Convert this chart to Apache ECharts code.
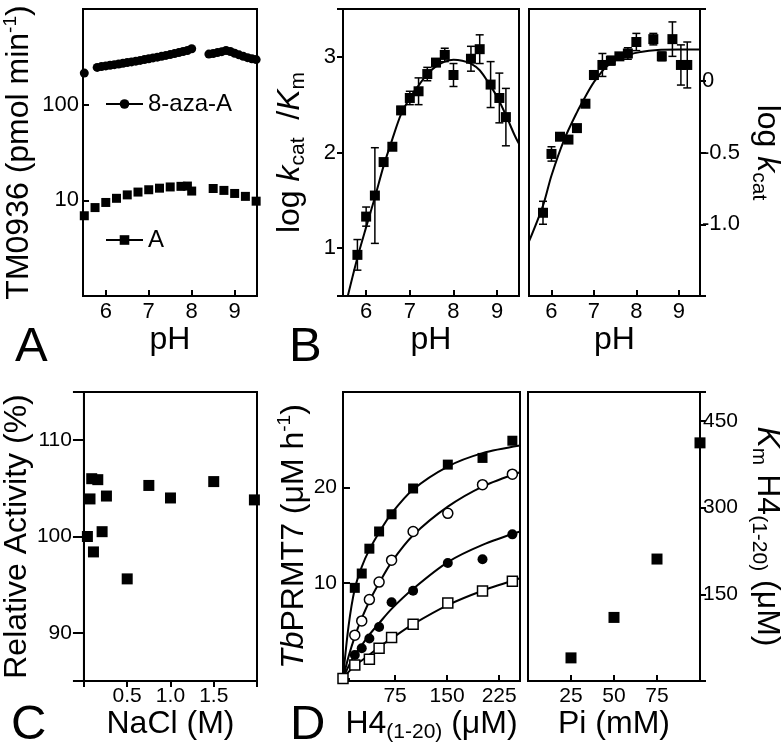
<!DOCTYPE html>
<html>
<head>
<meta charset="utf-8">
<script src="https://cdn.jsdelivr.net/npm/echarts@6/dist/echarts.min.js"></script>
<style>
  html, body { margin: 0; padding: 0; background: #fff; }
  #chart { width: 784px; height: 754px; }
</style>
</head>
<body>
<div id="chart"></div>
<script>
// ---- panel A: TM0936 activity vs pH (log scale) ----
const phAzaA = [5.5, 5.8, 5.9, 6.0, 6.1, 6.2, 6.3, 6.4, 6.5, 6.6, 6.7, 6.8, 6.9, 7.0, 7.1, 7.2, 7.3, 7.4, 7.5, 7.6, 7.7, 7.8, 7.9, 8.0,
                8.4, 8.5, 8.6, 8.7, 8.8, 8.9, 9.0, 9.1, 9.2, 9.3, 9.4, 9.5];
const rateAzaA = [214, 245, 250, 254, 258, 262, 266, 271, 276, 280, 285, 290, 296, 302, 308, 314, 320, 327, 334, 342, 350, 360, 368, 384,
                  338, 342, 350, 358, 368, 360, 345, 332, 320, 310, 302, 296];
const phA = [5.5, 5.75, 6.0, 6.25, 6.5, 6.75, 7.0, 7.25, 7.5, 7.75, 7.9, 8.0, 8.5, 8.75, 9.0, 9.25, 9.5];
const rateA = [6.9, 8.4, 9.5, 10.5, 11.4, 12.2, 12.9, 13.4, 13.8, 14.0, 14.1, 12.5, 13.3, 12.7, 11.8, 11.0, 9.8];

// ---- panel B: log kcat/Km and log kcat vs pH ----
const phB = [5.8, 6.0, 6.2, 6.4, 6.6, 6.8, 7.0, 7.2, 7.4, 7.6, 7.8, 8.0, 8.4, 8.6, 8.85, 9.05, 9.2];
const logKcatKm = [0.93, 1.33, 1.55, 1.9, 2.06, 2.44, 2.57, 2.64, 2.82, 2.94, 3.02, 2.81, 2.98, 3.08, 2.71, 2.57, 2.37];
const errKcatKm = [0.16, 0.1, 0.5, 0.03, 0.03, 0.04, 0.07, 0.14, 0.07, 0.04, 0.07, 0.12, 0.13, 0.15, 0.24, 0.26, 0.3];
const fitPhKcatKm = [5.58, 5.8, 6.0, 6.2, 6.4, 6.6, 6.8, 7.0, 7.2, 7.4, 7.6, 7.8, 8.0, 8.2, 8.4, 8.6, 8.8, 9.0, 9.2, 9.4, 9.5];
const fitKcatKm = [0.5, 0.9, 1.22, 1.53, 1.86, 2.14, 2.4, 2.57, 2.7, 2.82, 2.9, 2.95, 2.97, 2.96, 2.93, 2.86, 2.73, 2.58, 2.39, 2.18, 2.09];
const logKcat = [-0.92, -0.51, -0.39, -0.41, -0.33, -0.16, 0.04, 0.11, 0.14, 0.17, 0.19, 0.27, 0.29, 0.17, 0.29, 0.11, 0.11];
const errKcat = [0.08, 0.05, 0.02, 0.02, 0.02, 0.02, 0.03, 0.08, 0.03, 0.02, 0.04, 0.06, 0.04, 0.03, 0.12, 0.14, 0.16];
const fitPhKcat = [5.47, 5.8, 6.0, 6.3, 6.6, 6.8, 7.0, 7.3, 7.7, 8.1, 8.5, 9.0, 9.5];
const fitKcat = [-1.12, -0.87, -0.66, -0.41, -0.22, -0.11, -0.01, 0.1, 0.17, 0.2, 0.215, 0.218, 0.218];

// ---- panel C: NaCl effect ----
const nacl = [0.04, 0.07, 0.09, 0.11, 0.16, 0.21, 0.26, 0.5, 0.75, 1.0, 1.5, 1.97];
const relActivity = [100.0, 103.9, 106.0, 98.4, 105.9, 100.5, 104.2, 95.6, 105.3, 104.0, 105.7, 103.8];

// ---- panel D: TbPRMT7 kinetics and Km vs Pi ----
const h4Conc = [17, 27, 38, 52, 70, 101, 151, 201, 244];
const rateFilledSq = [9.5, 11.0, 13.6, 15.4, 17.2, 19.9, 22.4, 23.1, 24.9];
const rateOpenCirc = [4.55, 6.04, 8.27, 10.1, 12.4, 15.4, 17.3, 20.3, 21.4];
const rateFilledCirc = [2.47, 3.17, 4.2, 5.4, 8.0, 9.2, 12.1, 12.5, 15.1];
const h4ConcOpenSq = [0, 17, 38, 52, 70, 101, 151, 201, 244];
const rateOpenSq = [0, 1.43, 2.02, 3.17, 4.31, 5.7, 7.92, 9.17, 10.18];
const fitH4 = [0, 8, 17, 27, 38, 52, 70, 101, 151, 201, 255];
const fitFilledSq = [0, 5.5, 9.4, 11.7, 13.5, 15.3, 17.3, 19.8, 22.2, 23.6, 24.4];
const fitOpenCirc = [0, 2.3, 4.4, 6.3, 8.1, 10.0, 12.2, 15.0, 18.0, 20.1, 21.6];
const fitFilledCirc = [0, 1.3, 2.5, 3.5, 4.6, 5.8, 7.3, 9.4, 12.2, 14.0, 15.4];
const fitOpenSq = [0, 0.7, 1.4, 1.9, 2.5, 3.3, 4.2, 5.7, 7.7, 9.2, 10.5];
const piConc = [25, 50, 75, 100];
const kmH4 = [40, 110, 211, 412];

const FONT = '"Liberation Sans", Arial, Helvetica, sans-serif';
const zip = (xs, ys) => xs.map((x, i) => [x, ys[i]]);

const rich = {
  n: { fontSize: 32, fontFamily: FONT, color: '#000' },
  i: { fontSize: 32, fontFamily: FONT, fontStyle: 'italic', color: '#000' },
  sub: { fontSize: 21, fontFamily: FONT, color: '#000', padding: [17, 0, 0, 0] },
  sup: { fontSize: 19, fontFamily: FONT, color: '#000', padding: [0, 0, 17, 0] }
};

function axisBase(extra) {
  const o = {
    type: 'value',
    axisLine: { show: true, onZero: false, lineStyle: { color: '#000', width: 2 } },
    axisTick: { show: true, length: 6, lineStyle: { color: '#000', width: 2 } },
    axisLabel: { color: '#000', fontSize: 22, fontFamily: FONT, margin: 5 },
    splitLine: { show: false },
    nameLocation: 'middle',
    nameTextStyle: { color: '#000', fontSize: 32, fontFamily: FONT, rich: rich }
  };
  return Object.assign(o, extra);
}
const inTick = len => ({ show: true, inside: true, length: len, lineStyle: { color: '#000', width: 2 } });

const intLabel = v => (Number.isInteger(Math.round(v * 1000) / 1000) ? String(Math.round(v)) : '');
const pick = list => v => (list.some(t => Math.abs(t - v) < 1e-6) ? String(v) : '');

function errorBars(params, api) {
  const x = api.value(0);
  const lo = api.coord([x, api.value(1)]);
  const hi = api.coord([x, api.value(2)]);
  const cap = 4;
  const st = { stroke: '#000', lineWidth: 1.5 };
  return {
    type: 'group',
    children: [
      { type: 'line', shape: { x1: hi[0], y1: hi[1], x2: lo[0], y2: lo[1] }, style: st },
      { type: 'line', shape: { x1: hi[0] - cap, y1: hi[1], x2: hi[0] + cap, y2: hi[1] }, style: st },
      { type: 'line', shape: { x1: lo[0] - cap, y1: lo[1], x2: lo[0] + cap, y2: lo[1] }, style: st }
    ]
  };
}

const black = { color: '#000', opacity: 1 };
const openMark = { color: '#fff', borderColor: '#000', borderWidth: 1.5, opacity: 1 };
const fitLine = (gi, xs, ys) => ({
  type: 'line', xAxisIndex: gi, yAxisIndex: gi, data: zip(xs, ys),
  showSymbol: false, smooth: 0.3, silent: true,
  lineStyle: { color: '#000', width: 2 }, z: 3
});
const dots = (gi, xs, ys, symbol, size, style) => ({
  type: 'scatter', xAxisIndex: gi, yAxisIndex: gi, data: zip(xs, ys),
  symbol: symbol, symbolSize: size, itemStyle: style, z: 4
});

const chart = echarts.init(document.getElementById('chart'));
const gridBox = { show: true, borderColor: '#000', borderWidth: 2, backgroundColor: 'transparent' };
const letter = (t, left, top) => ({
  text: t, left: left, top: top, padding: 0,
  textStyle: { fontSize: 49, fontWeight: 'normal', fontFamily: FONT, color: '#000' }
});
const pHLabel = { color: '#000', fontSize: 22, fontFamily: FONT, margin: 5, formatter: intLabel, showMinLabel: false, showMaxLabel: false };

const option = {
  animation: false,
  backgroundColor: '#fff',
  title: [letter('A', 15, 323), letter('B', 289, 323), letter('C', 11, 701), letter('D', 290, 701)],
  grid: [
    Object.assign({ left: 80, top: 9, width: 177, height: 287 }, gridBox),
    Object.assign({ left: 343, top: 9, width: 176, height: 287 }, gridBox),
    Object.assign({ left: 529, top: 9, width: 176, height: 287 }, gridBox),
    Object.assign({ left: 80, top: 392, width: 177, height: 289 }, gridBox),
    Object.assign({ left: 343, top: 392, width: 177, height: 289 }, gridBox),
    Object.assign({ left: 528, top: 392, width: 177, height: 289 }, gridBox)
  ],
  legend: [
    {
      data: ['8-aza-A'], left: 100, top: 87, itemWidth: 37, itemHeight: 12, itemGap: 5,
      textStyle: { fontSize: 24, fontFamily: FONT, color: '#000' }
    },
    {
      data: ['A'], left: 100, top: 223, itemWidth: 37, itemHeight: 12, itemGap: 5,
      textStyle: { fontSize: 24, fontFamily: FONT, color: '#000' }
    }
  ],
  xAxis: [
    axisBase({ gridIndex: 0, min: 5.47, max: 9.52, name: 'pH', nameGap: 27, axisTick: inTick(6), axisLabel: pHLabel }),
    axisBase({ gridIndex: 1, min: 5.47, max: 9.5, name: 'pH', nameGap: 27, axisTick: inTick(6), axisLabel: pHLabel }),
    axisBase({ gridIndex: 2, min: 5.47, max: 9.5, name: 'pH', nameGap: 27, axisTick: inTick(6), axisLabel: pHLabel }),
    axisBase({ gridIndex: 3, min: 0, max: 2, interval: 0.5, name: 'NaCl (M)', nameGap: 24,
      axisLabel: { color: '#000', fontSize: 21, fontFamily: FONT, margin: 5,
        formatter: v => (v > 0 && v < 2 ? v.toFixed(1) : '') } }),
    axisBase({ gridIndex: 4, min: 0, max: 255, interval: 75, name: '{n|H4}{sub|(1-20)}{n| (μM)}', nameGap: 24,
      axisTick: inTick(6),
      axisLabel: { color: '#000', fontSize: 21, fontFamily: FONT, margin: 5, formatter: pick([75, 150, 225]) } }),
    axisBase({ gridIndex: 5, min: 0, max: 100, interval: 25, name: 'Pi (mM)', nameGap: 24,
      axisTick: inTick(6),
      axisLabel: { color: '#000', fontSize: 21, fontFamily: FONT, margin: 5, formatter: pick([25, 50, 75]) } })
  ],
  yAxis: [
    axisBase({ gridIndex: 0, type: 'log', logBase: 10, min: 1, max: 1000,
      name: '{n|TM0936 (pmol min}{sup|-1}{n|)}', nameGap: 46, axisTick: inTick(6),
      axisLabel: { color: '#000', fontSize: 22, fontFamily: FONT, margin: 4, formatter: pick([10, 100]) } }),
    axisBase({ gridIndex: 1, min: 0.5, max: 3.5, splitNumber: 3,
      name: '{n|log }{i|k}{sub|cat}{n|  /}{i|K}{sub|m}', nameGap: 34,
      axisLabel: { color: '#000', fontSize: 22, fontFamily: FONT, margin: 7, formatter: pick([1, 2, 3]) } }),
    axisBase({ gridIndex: 2, position: 'right', min: -1.5, max: 0.5, splitNumber: 4,
      name: '{n|log }{i|k}{sub|cat}', nameGap: 48, nameRotate: -90,
      axisLabel: { color: '#000', fontSize: 22, fontFamily: FONT, margin: 2,
        formatter: v => (Math.abs(v) < 1e-9 ? '0' : (Math.abs(v + 0.5) < 1e-9 || Math.abs(v + 1) < 1e-9 ? v.toFixed(1) : '')) } }),
    axisBase({ gridIndex: 3, min: 85, max: 115, splitNumber: 3,
      name: 'Relative Activity (%)', nameGap: 46,
      axisTick: { show: true, length: 11, lineStyle: { color: '#000', width: 2 } },
      axisLabel: { color: '#000', fontSize: 21, fontFamily: FONT, margin: 12, formatter: pick([90, 100, 110]) } }),
    axisBase({ gridIndex: 4, min: -0.25, max: 30, splitNumber: 3,
      name: '{i|Tb}{n|PRMT7 (μM h}{sup|-1}{n|)}', nameGap: 31, axisTick: inTick(7),
      axisLabel: { color: '#000', fontSize: 21, fontFamily: FONT, margin: 6, formatter: pick([10, 20]) } }),
    axisBase({ gridIndex: 5, position: 'right', min: 0, max: 500, interval: 150,
      name: '{i|K}{sub|m}{n| H4}{sub|(1-20)}{n| (μM)}', nameGap: 48, nameRotate: -90,
      axisLabel: { color: '#000', fontSize: 21, fontFamily: FONT, margin: 3, formatter: pick([150, 300, 450]) } })
  ],
  series: [
    // A
    dots(0, phAzaA, rateAzaA, 'circle', 9, black),
    dots(0, phA, rateA, 'rect', 9, black),
    { name: '8-aza-A', type: 'line', xAxisIndex: 0, yAxisIndex: 0, data: [], symbol: 'circle', symbolSize: 9,
      itemStyle: black, lineStyle: { color: '#000', width: 2 } },
    { name: 'A', type: 'line', xAxisIndex: 0, yAxisIndex: 0, data: [], symbol: 'rect', symbolSize: 10,
      itemStyle: black, lineStyle: { color: '#000', width: 2 } },
    // B left
    { type: 'custom', xAxisIndex: 1, yAxisIndex: 1, renderItem: errorBars, encode: { x: 0, y: [1, 2] },
      data: phB.map((p, i) => [p, logKcatKm[i] - errKcatKm[i], logKcatKm[i] + errKcatKm[i]]), z: 2 },
    fitLine(1, fitPhKcatKm, fitKcatKm),
    dots(1, phB, logKcatKm, 'rect', 10, black),
    // B right
    { type: 'custom', xAxisIndex: 2, yAxisIndex: 2, renderItem: errorBars, encode: { x: 0, y: [1, 2] },
      data: phB.map((p, i) => [p, logKcat[i] - errKcat[i], logKcat[i] + errKcat[i]]), z: 2 },
    fitLine(2, fitPhKcat, fitKcat),
    dots(2, phB, logKcat, 'rect', 10, black),
    // C
    dots(3, nacl, relActivity, 'rect', 11, black),
    // D left
    fitLine(4, fitH4, fitFilledSq),
    fitLine(4, fitH4, fitOpenCirc),
    fitLine(4, fitH4, fitFilledCirc),
    fitLine(4, fitH4, fitOpenSq),
    dots(4, h4Conc, rateFilledSq, 'rect', 10, black),
    dots(4, h4Conc, rateOpenCirc, 'circle', 10, openMark),
    dots(4, h4Conc, rateFilledCirc, 'circle', 10, black),
    dots(4, h4ConcOpenSq, rateOpenSq, 'rect', 10, openMark),
    // D right
    dots(5, piConc, kmH4, 'rect', 11, black)
  ]
};
chart.setOption(option);
</script>
</body>
</html>
